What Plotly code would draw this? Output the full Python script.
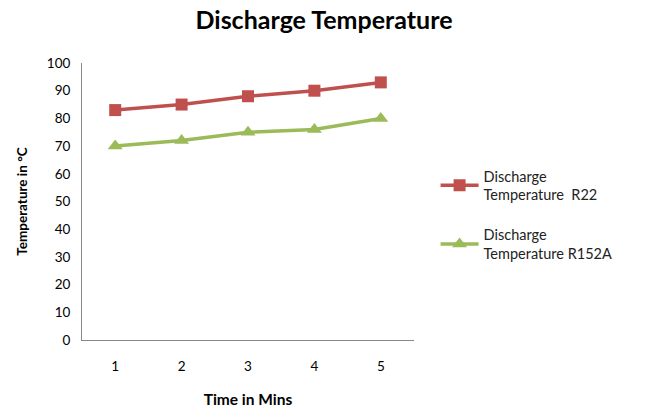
import plotly.graph_objects as go

# Discharge temperature readings over time
minutes = [1, 2, 3, 4, 5]
temp_r22 = [83, 85, 88, 90, 93]
temp_r152a = [70, 72, 75, 76, 80]
series_names = ["Discharge<br>Temperature  R22", "Discharge<br>Temperature R152A"]

FONT = "Lato, Open Sans, sans-serif"

fig = go.Figure()
fig.add_trace(go.Scatter(
    x=minutes, y=temp_r22, name=series_names[0], mode="lines+markers",
    legendgroup="r22",
    line=dict(color="#C0504D", width=3.5),
    marker=dict(symbol="square", size=12, color="#C0504D"),
))
fig.add_trace(go.Scatter(
    x=minutes, y=temp_r152a, name=series_names[1], mode="lines+markers",
    legendgroup="r152a",
    line=dict(color="#9BBB59", width=3.5),
    marker=dict(symbol="triangle-up", size=13, color="#9BBB59"),
))

fig.update_layout(
    width=648, height=410,
    margin=dict(l=82, r=234, t=63, b=70),
    paper_bgcolor="white", plot_bgcolor="white",
    font=dict(family=FONT, size=13, color="#000000"),
    title=dict(text="<b>Discharge Temperature</b>", x=0.5, xanchor="center",
               y=0.95, yanchor="middle", font=dict(family=FONT, size=25)),
    showlegend=True,
    legend=dict(x=1.065, y=0.65, xanchor="left", yanchor="top",
                font=dict(family=FONT, size=14.5, color="#222222"),
                itemwidth=38, tracegroupgap=18, bgcolor="rgba(0,0,0,0)"),
    xaxis=dict(range=[0.5, 5.5], tickvals=minutes, ticks="", showgrid=False,
               zeroline=False, showline=True, linecolor="#888888", linewidth=1,
               automargin=False,
               ticklabelstandoff=14, tickfont=dict(size=13.5),
               title=dict(text="<b>Time in Mins</b>", font=dict(size=15.5), standoff=20)),
    yaxis=dict(range=[0, 100], dtick=10, ticks="", showgrid=False,
               zeroline=False, showline=True, linecolor="#888888", linewidth=1,
               automargin=False,
               ticklabelstandoff=8, tickfont=dict(size=13.5),
               title=dict(text="<b>Temperature in °C</b>", font=dict(size=13.5), standoff=16)),
)

fig.write_html("out.html")
